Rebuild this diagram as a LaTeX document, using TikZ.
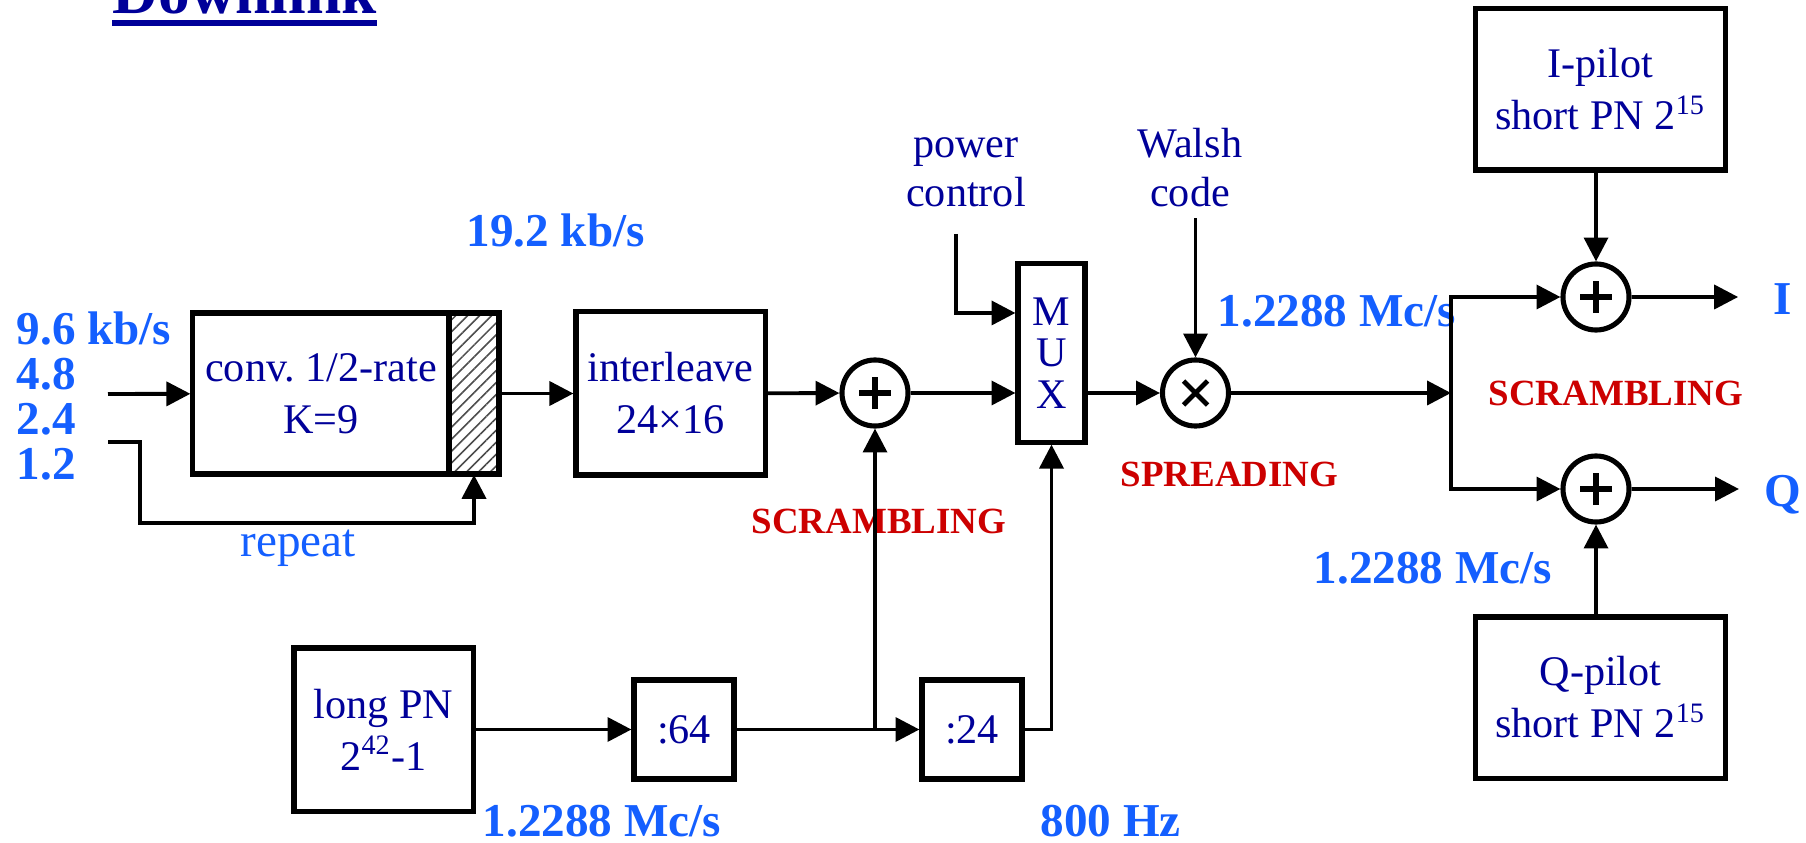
\documentclass[tikz,border=0pt]{standalone}
\usepackage{fontspec}
\setmainfont{Liberation Serif}
\usepackage{xcolor}
\usepackage{tikz}
\usetikzlibrary{
  arrows.meta,
  calc,
  patterns.meta,
  positioning
}
\definecolor{navy}{RGB}{0,0,153}
\definecolor{rateblue}{RGB}{20,95,255}
\definecolor{tagred}{RGB}{204,0,0}
\tikzset{
  cdma/.style={ font=\fontsize{12}{14.5}\selectfont },
  blockbox/.style={
    draw=black,
    line width=1.45pt,
    text=navy,
    align=center,
    inner sep=2pt,
    font=\fontsize{12}{14.8}\selectfont
  },
  hatchbox/.style={
    draw=black,
    line width=1.45pt,
    pattern={Lines[angle=45,distance=2.4pt,line width=0.45pt]},
    pattern color=black!70,
    minimum width=0.5cm,
    minimum height=1.61cm
  },
  adder/.style={
    circle, draw=black, line width=1.45pt,
    minimum size=0.66cm, inner sep=0pt,
    path picture={
      \draw[line width=1.5pt]
        ([xshift=-0.16cm]path picture bounding box.center) -- ([xshift=0.16cm]path picture bounding box.center)
        ([yshift=-0.16cm]path picture bounding box.center) -- ([yshift=0.16cm]path picture bounding box.center);
    }
  },
  mixer/.style={
    circle, draw=black, line width=1.45pt,
    minimum size=0.66cm, inner sep=0pt,
    path picture={
      \draw[line width=1.4pt]
        ([shift={(-0.12cm,-0.12cm)}]path picture bounding box.center) -- ([shift={(0.12cm,0.12cm)}]path picture bounding box.center)
        ([shift={(-0.12cm,0.12cm)}]path picture bounding box.center) -- ([shift={(0.12cm,-0.12cm)}]path picture bounding box.center);
    }
  },
  arrow/.style={
    -{Triangle[length=6.8pt,width=6.8pt]},
    line width=1.1pt,
    draw=black
  },
  rate/.style={
    text=rateblue,
    inner sep=0pt,
    font=\fontsize{13.4}{12.8}\selectfont\bfseries
  },
  tag/.style={
    text=tagred,
    inner sep=0pt,
    font=\fontsize{10.5}{12}\selectfont\bfseries
  },
  note/.style={
    text=navy,
    align=center,
    inner sep=0pt,
    font=\fontsize{12}{14.2}\selectfont
  }
}

\begin{document}
\begin{tikzpicture}[cdma, x=0.01cm, y=-0.01cm]
  \useasboundingbox (0,0) rectangle (1806,843);

  \node[anchor=base west, inner sep=0pt, text=navy,
    font=\fontsize{18}{20}\selectfont\bfseries] (title) at (112,14) {Downlink};
  \draw[navy, line width=1.7pt] ([yshift=-0.09cm]title.base west) -- ([yshift=-0.09cm]title.base east);

  % traffic channel
  \node[blockbox, minimum width=2.56cm, minimum height=1.61cm] (conv) at (321,393.5) {conv.\ 1/2-rate\\K=9};
  \node[hatchbox] (hatch) at (474,393.5) {};
  \node[blockbox, minimum width=1.89cm, minimum height=1.63cm] (ilv) at (670.5,393.5) {interleave\\24×16};
  \node[adder] (addS) at (875,393) {};
  \node[blockbox, minimum width=0.67cm, minimum height=1.78cm,
    font=\fontsize{12}{11.8}\selectfont] (mux) at (1051.5,353) {M\\U\\X};
  \node[mixer] (mult) at (1195.5,393) {};
  \coordinate (br) at (1451,393);
  \node[adder] (addI) at (1596,297) {};
  \node[adder] (addQ) at (1596,489) {};
  \node[blockbox, minimum width=2.49cm, minimum height=1.61cm] (ipilot) at (1600.5,89.5) {I-pilot\\short PN 2\textsuperscript{15}};
  \node[blockbox, minimum width=2.49cm, minimum height=1.61cm] (qpilot) at (1600.5,697.5) {Q-pilot\\short PN 2\textsuperscript{15}};

  % long code
  \node[blockbox, minimum width=1.79cm, minimum height=1.63cm] (lpn) at (383.5,729.5) {long PN\\2\textsuperscript{42}-1};
  \node[blockbox, minimum width=1cm, minimum height=0.99cm] (d64) at (684,729.5) {:64};
  \node[blockbox, minimum width=1cm, minimum height=0.99cm] (d24) at (972,729.5) {:24};

  \coordinate (din) at (108,394);
  \coordinate (rep) at (108,442);
  \coordinate (pcin) at (956,234);
  \node[note, anchor=base] (pc) at (966,207) {power\\control};
  \node[note, anchor=base] (walsh) at (1190,207) {Walsh\\code};

  % labels
  \node[rate, anchor=base west, align=left] (rin) at (16,480) {9.6 kb/s\\4.8\\2.4\\1.2};
  \node[rate, anchor=base west] (r19) at (466,247) {19.2 kb/s};
  \node[anchor=base west, inner sep=0pt, text=rateblue,
    font=\fontsize{13.4}{15}\selectfont] (replbl) at (240,557) {repeat};
  \node[rate, anchor=base west] (rchip) at (1217,327) {1.2288 Mc/s};
  \node[rate, anchor=base west] (rchipq) at (1313,583) {1.2288 Mc/s};
  \node[rate, anchor=base west] (rpn) at (482,836) {1.2288 Mc/s};
  \node[rate, anchor=base west] (r800) at (1040,836) {800 Hz};
  \node[rate, anchor=base] (lblI) at (1783,315) {I};
  \node[rate, anchor=base] (lblQ) at (1783,507) {Q};
  \node[tag, anchor=base west] (scr1) at (751,533) {SCRAMBLING};
  \node[tag, anchor=base west] (spr) at (1120,487) {SPREADING};
  \node[tag, anchor=base west] (scr2) at (1488,406) {SCRAMBLING};

  % connections
  \draw[arrow] (din) -- (conv);
  \draw[arrow] (rep) -- ++(32,0) |- ([yshift=-0.48cm]hatch.south) -- (hatch.south);
  \draw[arrow] (hatch) -- (ilv);
  \draw[arrow] (ilv) -- (addS);
  \draw[arrow] (addS) -- (addS -| mux.west);
  \draw[arrow] (pcin) |- ([yshift=0.4cm]mux.west);
  \draw[arrow] (mux.east |- mult) -- (mult);
  \draw[arrow] ([yshift=-0.1cm]walsh.south -| mult) -- (mult);
  \draw[arrow] (mult) -- (br);
  \draw[arrow] (br) |- (addI);
  \draw[arrow] (br) |- (addQ);
  \draw[arrow] (ipilot.south -| addI) -- (addI);
  \draw[arrow] (qpilot.north -| addQ) -- (addQ);
  \draw[arrow, shorten >=0.35cm] (addI) -- (addI -| lblI.west);
  \draw[arrow, shorten >=0.25cm] (addQ) -- (addQ -| lblQ.west);
  \draw[arrow] (lpn) -- (d64);
  \draw[arrow] (d64) -- (d24);
  \draw[arrow] (d64.east -| addS) -- (addS);
  \draw[arrow] (d24) -| (mux);
\end{tikzpicture}
\end{document}
